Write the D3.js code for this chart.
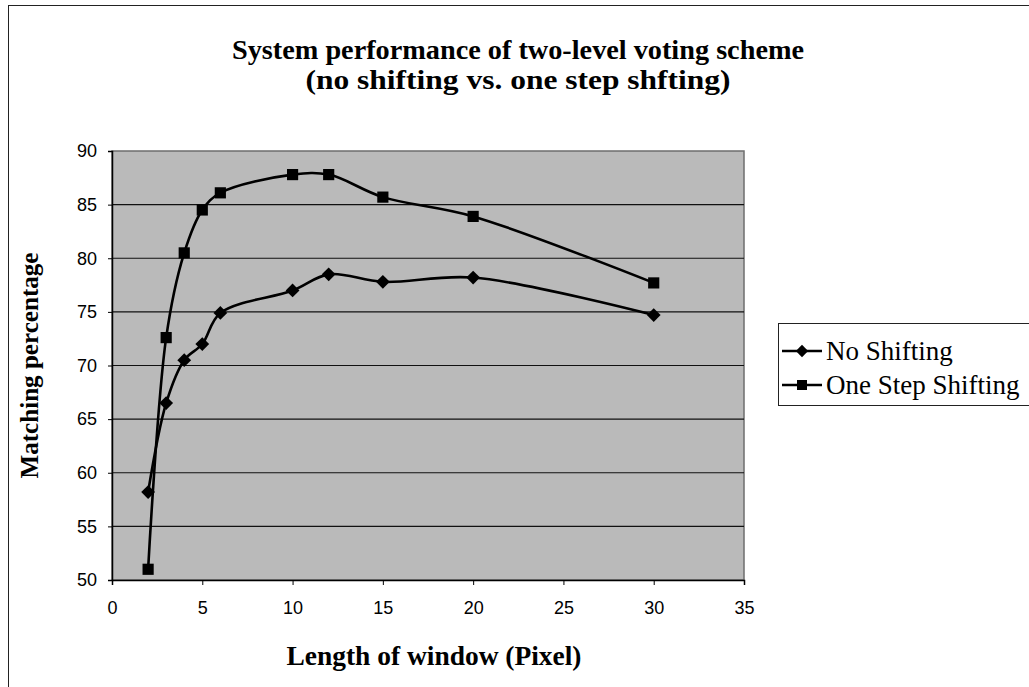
<!DOCTYPE html>
<html>
<head>
<meta charset="utf-8">
<script src="https://cdn.jsdelivr.net/npm/d3@7/dist/d3.min.js"></script>
<style>
  html, body { margin: 0; padding: 0; background: #fff; }
  svg { display: block; }
</style>
</head>
<body>
<svg id="chart" width="1029" height="687"></svg>
<script>
// Window length in pixels
const windowLengths = [2, 3, 4, 5, 6, 10, 12, 15, 20, 30];
// Matching percentage per window length
const noShifting      = [58.2, 66.5, 70.5, 72.0, 74.9, 77.0, 78.5, 77.8, 78.2, 74.7];
const oneStepShifting = [51.0, 72.6, 80.5, 84.5, 86.1, 87.8, 87.8, 85.7, 83.9, 77.7];
const seriesNames = ["No Shifting", "One Step Shifting"];
const xTicks = [0, 5, 10, 15, 20, 25, 30, 35];
const yTicks = [50, 55, 60, 65, 70, 75, 80, 85, 90];

const svg = d3.select("#chart");
const W = 1029, H = 687;
const plot = { left: 112, right: 744, top: 151, bottom: 580 };
const serif = "'Liberation Serif', 'Times New Roman', serif";

const x = d3.scaleLinear().domain([0, 35]).range([plot.left, plot.right]);
const y = d3.scaleLinear().domain([50, 90]).range([plot.bottom, plot.top]);

// outer chart frame
svg.append("rect")
  .attr("x", 8.5).attr("y", 5.5)
  .attr("width", W + 10).attr("height", H + 10)
  .attr("fill", "none").attr("stroke", "#222").attr("stroke-width", 1);

// bold serif label squeezed to a fixed width
function boldLabel(sel, txt, size, len) {
  return sel.append("text")
    .attr("text-anchor", "middle")
    .attr("font-family", serif)
    .attr("font-weight", "bold")
    .attr("font-size", size)
    .attr("textLength", len)
    .attr("lengthAdjust", "spacingAndGlyphs")
    .attr("fill", "#000")
    .text(txt);
}

// title
boldLabel(svg, "System performance of two-level voting scheme", 27, 572)
  .attr("x", 518).attr("y", 59);
boldLabel(svg, "(no shifting vs. one step shfting)", 27, 425)
  .attr("x", 518).attr("y", 89);

// plot area background
svg.append("rect")
  .attr("x", plot.left).attr("y", plot.top)
  .attr("width", plot.right - plot.left).attr("height", plot.bottom - plot.top)
  .attr("fill", "#bababa")
  .attr("stroke", "#6e6e6e").attr("stroke-width", 1.5);

// horizontal gridlines
svg.append("g")
  .selectAll("line")
  .data(yTicks.filter(v => v > 50 && v < 90))
  .join("line")
  .attr("x1", plot.left).attr("x2", plot.right)
  .attr("y1", d => y(d)).attr("y2", d => y(d))
  .attr("stroke", "#111").attr("stroke-width", 1.2);

// axes
const yAxis = d3.axisLeft(y).tickValues(yTicks).tickSize(4).tickPadding(11);
const xAxis = d3.axisBottom(x).tickValues(xTicks).tickSize(5).tickPadding(16);

const gy = svg.append("g").attr("transform", `translate(${plot.left},0)`).call(yAxis);
const gx = svg.append("g").attr("transform", `translate(0,${plot.bottom})`).call(xAxis);

[gx, gy].forEach(g => {
  g.select(".domain").attr("stroke", "#000").attr("stroke-width", 1.5);
  g.selectAll(".tick line").attr("stroke", "#000").attr("stroke-width", 1);
  g.selectAll(".tick text")
    .attr("font-family", "'Liberation Sans', Arial, sans-serif")
    .attr("font-size", 18)
    .attr("fill", "#000");
});

// axis titles
boldLabel(svg, "Length of window (Pixel)", 27, 295)
  .attr("x", 434).attr("y", 665);

boldLabel(svg, "Matching percentage", 26, 226)
  .attr("transform", `translate(38,${(plot.top + plot.bottom) / 2}) rotate(-90)`);

// series
const series = [
  { name: seriesNames[0], values: noShifting, rotate: 45, size: 95 },
  { name: seriesNames[1], values: oneStepShifting, rotate: 0, size: 125 }
];

const line = d3.line()
  .x((d, i) => x(windowLengths[i]))
  .y(d => y(d))
  .curve(d3.curveCatmullRom.alpha(0.5));

series.forEach(s => {
  svg.append("path")
    .datum(s.values)
    .attr("d", line)
    .attr("fill", "none")
    .attr("stroke", "#000")
    .attr("stroke-width", 2.6);

  svg.append("g")
    .selectAll("path")
    .data(s.values)
    .join("path")
    .attr("transform", (d, i) => `translate(${x(windowLengths[i])},${y(d)}) rotate(${s.rotate})`)
    .attr("d", d3.symbol().type(d3.symbolSquare).size(s.size))
    .attr("fill", "#000");
});

// legend
const legend = svg.append("g").attr("transform", "translate(778,323)");
legend.append("rect")
  .attr("x", 0.5).attr("y", 0.5).attr("width", 300).attr("height", 82)
  .attr("fill", "#fff").attr("stroke", "#222").attr("stroke-width", 1);

series.forEach((s, i) => {
  const g = legend.append("g").attr("transform", `translate(0,${28 + i * 34})`);
  g.append("line").attr("x1", 4).attr("x2", 44).attr("y1", 0).attr("y2", 0)
    .attr("stroke", "#000").attr("stroke-width", 2.4);
  g.append("path")
    .attr("transform", `translate(24,0) rotate(${s.rotate})`)
    .attr("d", d3.symbol().type(d3.symbolSquare).size(s.size * 0.8))
    .attr("fill", "#000");
  g.append("text")
    .attr("x", 48).attr("y", 0).attr("dy", "0.35em")
    .attr("font-family", serif)
    .attr("font-size", 27)
    .text(s.name);
});
</script>
</body>
</html>
